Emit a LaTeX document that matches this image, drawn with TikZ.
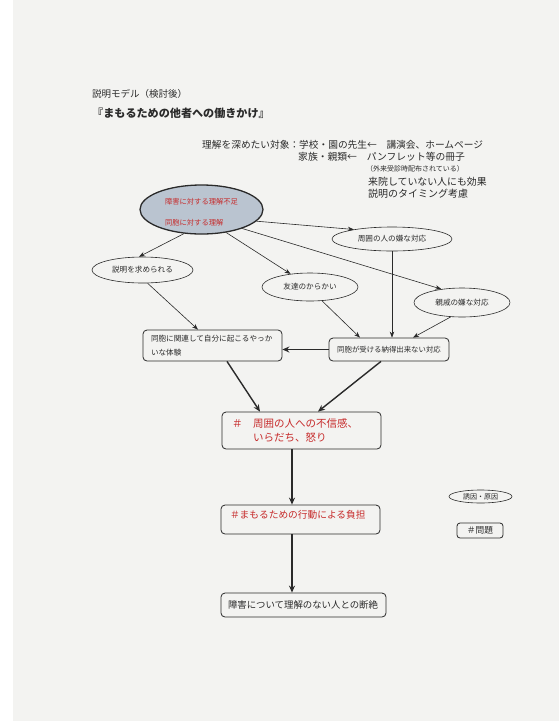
\documentclass[tikz,border=0pt]{standalone}
\usepackage{fontspec}
\setmainfont{Noto Sans CJK JP}
\usetikzlibrary{shapes.geometric,arrows.meta}
\definecolor{paper}{HTML}{F3F3F1}
\definecolor{redtxt}{HTML}{C62A2A}
\definecolor{grayfill}{HTML}{BAC4D0}
\definecolor{ink}{HTML}{2A2A2A}
\tikzset{
  lbl/.style={inner sep=0pt, anchor=west, text=ink},
  oval/.style={draw=ink, ellipse, inner sep=0pt, line width=0.6pt, text=ink,
    font=\fontsize{7.6}{9}\selectfont},
  roundbox/.style={draw=ink, rounded corners=4pt, line width=0.8pt, inner ysep=2pt, text=ink},
  arr/.style={draw=ink, line width=0.6pt, -{Stealth[length=6pt,width=4.5pt]}},
  tarr/.style={draw=ink, line width=1.4pt, -{Stealth[length=7pt,width=6pt]}}
}
\begin{document}
\begin{tikzpicture}[x=1pt,y=-1pt]
\fill[paper] (0,0) rectangle (559,721);
\fill[white] (0,0) rectangle (13,721);
\useasboundingbox (0,0) rectangle (559,721);

% header texts
\node[lbl, font=\fontsize{9.5}{11}\selectfont] (sub) at (92,94) {説明モデル（検討後）};
\node[lbl, font=\fontsize{11.1}{13}\selectfont\bfseries] (title) at (92,113) {『まもるための他者への働きかけ』};
\node[lbl, font=\fontsize{9.7}{11}\selectfont] (l1) at (202,145) {理解を深めたい対象：学校・園の先生←　講演会、ホームページ};
\node[lbl, font=\fontsize{9.8}{11}\selectfont] (l2) at (298,157) {家族・親類←　パンフレット等の冊子};
\node[lbl, font=\fontsize{7}{9}\selectfont] (l3) at (366,169) {（外来受診時配布されている）};
\node[lbl, font=\fontsize{9.9}{11}\selectfont] (l4) at (368,182) {来院していない人にも効果};
\node[lbl, font=\fontsize{10}{11}\selectfont] (l5) at (368,194) {説明のタイミング考慮};

% cause ellipse
\node[draw=ink, ellipse, fill=grayfill, line width=1.3pt, minimum width=123pt,
      minimum height=49pt, inner sep=0pt] (cause) at (201.5,209.5) {};
\node[font=\fontsize{7.3}{21}\selectfont, text=redtxt, align=left, inner sep=0pt]
      (causetxt) at (201.5,212.5) {障害に対する理解不足\\同胞に対する理解};

% trigger ellipses
\node[oval, minimum width=120pt, minimum height=24pt] (surround) at (392,239) {周囲の人の嫌な対応};
\node[oval, minimum width=101pt, minimum height=26pt] (explain) at (142.5,270) {説明を求められる};
\node[oval, minimum width=96pt, minimum height=28pt] (tease) at (310,287) {友達のからかい};
\node[oval, minimum width=96pt, minimum height=29pt] (relat) at (462,302.5) {親戚の嫌な対応};

% middle boxes
\node[roundbox, minimum width=139pt, minimum height=31pt, inner xsep=8pt, text width=123pt,
      align=left, font=\fontsize{7.6}{14}\selectfont] (exper) at (212.5,345.5)
      {同胞に関連して自分に起こるやっか\\いな体験};
\node[roundbox, minimum width=120pt, minimum height=23pt, inner xsep=4pt,
      font=\fontsize{7.4}{9}\selectfont] (unfair) at (389,349.5) {同胞が受ける納得出来ない対応};

% problem boxes
\node[roundbox, minimum width=159pt, minimum height=37pt, inner xsep=10pt, text width=139pt,
      align=left, text=redtxt, font=\fontsize{10.5}{14}\selectfont] (hbox) at (301.5,430.5)
      {＃\hspace*{10.5pt}周囲の人への不信感、\\\hspace*{21pt}いらだち、怒り};
\node[roundbox, minimum width=159pt, minimum height=29pt, inner xsep=9pt, text width=141pt,
      align=left, text=redtxt, font=\fontsize{9.7}{11}\selectfont] (mbox) at (300.5,519.5)
      {\raisebox{4.5pt}[\height][\depth]{＃まもるための行動による負担}};
\node[roundbox, minimum width=165pt, minimum height=24pt, inner xsep=7pt, text width=151pt,
      align=left, font=\fontsize{9.4}{11}\selectfont] (dbox) at (303.5,605)
      {障害について理解のない人との断絶};

% legend
\node[oval, minimum width=63pt, minimum height=13pt, font=\fontsize{7}{8}\selectfont] (keycause) at (480.5,496.5) {誘因・原因};
\node[roundbox, rounded corners=3pt, minimum width=46pt, minimum height=15pt, inner sep=0pt,
      font=\fontsize{8.7}{10}\selectfont] (keyprob) at (480,530.5) {＃問題};

% connectors
\draw[arr] (cause.-12) -- (surround.166);
\draw[arr] (cause.-126) -- (explain.105);
\draw[arr] (cause.-43) -- (tease.146);
\draw[arr] (cause.-25) -- (relat.147);
\draw[arr] (explain.-69) -- ([xshift=-14.5pt]exper.north);
\draw[arr] (tease.-49) -- ([xshift=-29pt]unfair.north);
\draw[arr] (surround.south) -- ([xshift=3pt]unfair.north);
\draw[arr] (relat.-128) -- ([xshift=24pt]unfair.north);
\draw[tarr] (unfair.west) -- (unfair.west -| exper.east);
\draw[tarr] ([xshift=14.5pt]exper.south) -- ([xshift=-41.5pt]hbox.north);
\draw[tarr] ([xshift=-8pt]unfair.south) -- ([xshift=16.5pt]hbox.north);
\draw[tarr] ([xshift=-9.5pt]hbox.south) -- ([xshift=-9.5pt]hbox.south |- mbox.north);
\draw[tarr] ([xshift=-8.5pt]mbox.south) -- ([xshift=-8.5pt]mbox.south |- dbox.north);
\end{tikzpicture}
\end{document}
